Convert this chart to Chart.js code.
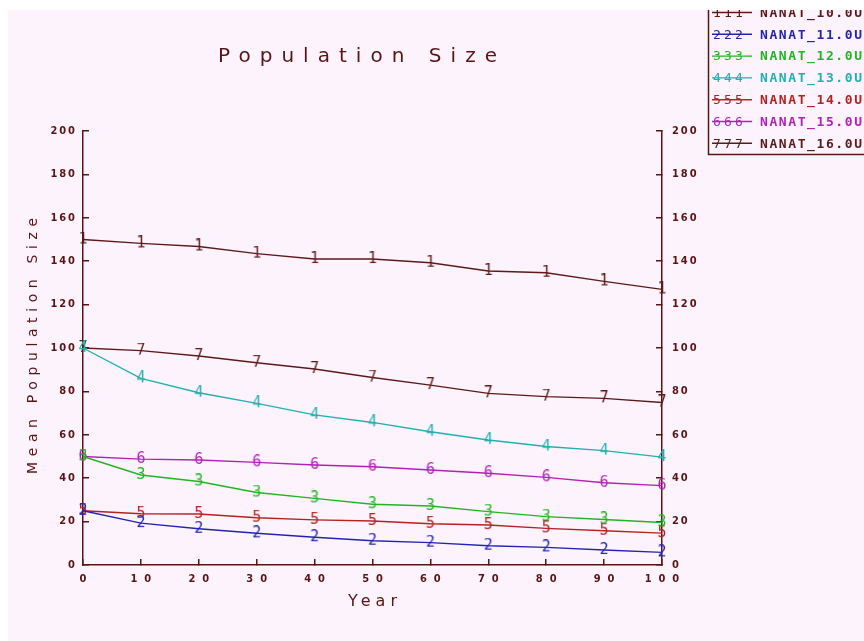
<!DOCTYPE html>
<html>
<head>
<meta charset="utf-8">
<script src="https://cdn.jsdelivr.net/npm/chart.js@4.4.1/dist/chart.umd.min.js"></script>
<style>
  html, body { margin: 0; padding: 0; background: #fff; }
  #wrap { width: 864px; height: 641px; }
</style>
</head>
<body>
<div id="wrap"><canvas id="chart" width="864" height="641"></canvas></div>
<script>
// ---- data ----
const years = [0, 10, 20, 30, 40, 50, 60, 70, 80, 90, 100];
const xTicks = [0, 10, 20, 30, 40, 50, 60, 70, 80, 90, 100];
const yTicks = [0, 20, 40, 60, 80, 100, 120, 140, 160, 180, 200];
const seriesNames = ['NANAT_10.0U', 'NANAT_11.0U', 'NANAT_12.0U', 'NANAT_13.0U', 'NANAT_14.0U', 'NANAT_15.0U', 'NANAT_16.0U'];
const markers = ['1', '2', '3', '4', '5', '6', '7'];
const colors = ['#5e1a1a', '#2424b4', '#22b422', '#22b0b0', '#b42222', '#b022b4', '#5e1a1a'];

const nanat10 = [150, 148.2, 146.8, 143.5, 141, 141, 139.3, 135.5, 134.7, 130.7, 127];
const nanat11 = [25, 19.3, 16.7, 14.6, 12.8, 11.2, 10.3, 8.9, 8.1, 6.9, 5.8];
const nanat12 = [50, 41.5, 38.5, 33.4, 30.7, 28, 27.2, 24.6, 22.3, 21, 19.6];
const nanat13 = [100, 86, 79.4, 74.5, 69.2, 65.7, 61.4, 57.6, 54.6, 52.7, 49.7];
const nanat14 = [25, 23.6, 23.5, 21.8, 20.8, 20.3, 19, 18.4, 16.9, 15.8, 14.7];
const nanat15 = [50, 48.8, 48.4, 47.3, 46.1, 45.3, 43.8, 42.3, 40.4, 37.9, 36.6];
const nanat16 = [100, 98.8, 96.3, 93.2, 90.3, 86.4, 82.9, 79.1, 77.6, 76.8, 74.9];

const allSeries = [nanat10, nanat11, nanat12, nanat13, nanat14, nanat15, nanat16];

const axisColor = '#5a1414';
const bgColor = '#fdf3fd';

// digit drawn on a small canvas, used as the point style
function digitMarker(d, color) {
    const c = document.createElement('canvas');
    c.width = 14;
    c.height = 16;
    const g = c.getContext('2d');
    g.fillStyle = color;
    g.font = '15px "DejaVu Sans Mono"';
    g.textAlign = 'center';
    g.textBaseline = 'middle';
    g.fillText(d, 7, 8.5);
    return c;
}

// "200" -> "2 0 0" like the old plotter font
function spaced(v, sep) {
    return String(v).split('').join(sep);
}

// draw text spread so it covers x0..x1
function spreadText(ctx, text, x0, x1, y) {
    ctx.letterSpacing = '0px';
    const w = ctx.measureText(text).width;
    const gap = (x1 - x0 - w) / (text.length - 1);
    ctx.letterSpacing = gap + 'px';
    ctx.textAlign = 'left';
    ctx.fillText(text, x0, y);
    ctx.letterSpacing = '0px';
}

const datasets = allSeries.map((vals, i) => ({
    label: seriesNames[i],
    data: years.map((yr, j) => ({ x: yr, y: vals[j] })),
    borderColor: colors[i],
    backgroundColor: colors[i],
    borderWidth: 1.4,
    tension: 0,
    fill: false,
    pointStyle: digitMarker(markers[i], colors[i]),
    pointRadius: 5,
    clip: false
}));

const tickFont = { family: '"Liberation Sans Narrow", "DejaVu Sans Condensed", "DejaVu Sans"', size: 11, weight: 'bold' };

const decor = {
    id: 'decor',
    beforeDraw(chart) {
        const ctx = chart.ctx;
        ctx.save();
        ctx.fillStyle = '#ffffff';
        ctx.fillRect(0, 0, chart.width, chart.height);
        ctx.fillStyle = bgColor;
        ctx.fillRect(8, 10, chart.width - 8, chart.height - 10);
        ctx.restore();
    },
    afterDraw(chart) {
        const ctx = chart.ctx;
        ctx.save();
        ctx.fillStyle = axisColor;
        ctx.textBaseline = 'alphabetic';

        // title
        ctx.font = '20px "DejaVu Sans"';
        spreadText(ctx, 'Population Size', 218, 497, 62);

        // x title
        ctx.font = '16px "DejaVu Sans"';
        spreadText(ctx, 'Year', 348, 397, 606);

        // y title
        ctx.save();
        ctx.translate(37, 474);
        ctx.rotate(-Math.PI / 2);
        ctx.font = '14px "DejaVu Sans"';
        spreadText(ctx, 'Mean Population Size', 0, 256, 0);
        ctx.restore();

        // legend box, top cut off by the picture edge
        ctx.save();
        ctx.beginPath();
        ctx.rect(8, 10, chart.width - 8, chart.height - 10);
        ctx.clip();
        ctx.strokeStyle = axisColor;
        ctx.lineWidth = 1.5;
        ctx.beginPath();
        ctx.moveTo(708.5, 0);
        ctx.lineTo(708.5, 154.5);
        ctx.lineTo(chart.width, 154.5);
        ctx.stroke();

        chart.data.datasets.forEach((ds, i) => {
            const y = 12.5 + i * 21.8;
            ctx.strokeStyle = ds.borderColor;
            ctx.lineWidth = 1.4;
            ctx.beginPath();
            ctx.moveTo(712, y);
            ctx.lineTo(752, y);
            ctx.stroke();
            ctx.fillStyle = ds.borderColor;
            ctx.font = '13px "DejaVu Sans Mono"';
            ctx.textAlign = 'center';
            ctx.textBaseline = 'middle';
            [717, 728, 739].forEach(px => ctx.fillText(markers[i], px, y + 1));
            ctx.font = 'bold 13px "DejaVu Sans Mono"';
            spreadText(ctx, ds.label, 760, 862, y + 1);
        });
        ctx.restore();

        ctx.restore();
    }
};

const ctx = document.getElementById('chart').getContext('2d');
const chart = new Chart(ctx, {
    type: 'line',
    data: { datasets: datasets },
    options: {
        responsive: false,
        devicePixelRatio: 1,
        animation: false,
        layout: { padding: { left: 0, top: 131, right: 162, bottom: 0 } },
        plugins: {
            legend: { display: false },
            title: { display: false },
            tooltip: { enabled: false }
        },
        scales: {
            x: {
                type: 'linear',
                position: 'bottom',
                min: 0,
                max: 100,
                afterBuildTicks: s => { s.ticks = xTicks.map(v => ({ value: v })); },
                afterFit: s => { s.height = 76; },
                grid: { drawOnChartArea: false, drawTicks: true, tickLength: -6, color: axisColor, lineWidth: 1.5 },
                border: { color: axisColor, width: 1.5 },
                ticks: { padding: 14, color: axisColor, font: tickFont, maxRotation: 0, callback: v => spaced(v, '  ') }
            },
            y: {
                type: 'linear',
                position: 'left',
                min: 0,
                max: 200,
                afterBuildTicks: s => { s.ticks = yTicks.map(v => ({ value: v })); },
                afterFit: s => { s.width = 83; },
                grid: { drawOnChartArea: false, drawTicks: true, tickLength: -6, color: axisColor, lineWidth: 1.5 },
                border: { color: axisColor, width: 1.5 },
                ticks: { padding: 14, color: axisColor, font: tickFont, callback: v => spaced(v, '\u2009') }
            },
            y2: {
                type: 'linear',
                position: 'right',
                min: 0,
                max: 200,
                afterBuildTicks: s => { s.ticks = yTicks.map(v => ({ value: v })); },
                afterFit: s => { s.width = 40; },
                grid: { drawOnChartArea: false, drawTicks: true, tickLength: -6, color: axisColor, lineWidth: 1.5 },
                border: { color: axisColor, width: 1.5 },
                ticks: { padding: 16, color: axisColor, font: tickFont, callback: v => spaced(v, '\u2009') }
            }
        }
    },
    plugins: [decor]
});
</script>
</body>
</html>
